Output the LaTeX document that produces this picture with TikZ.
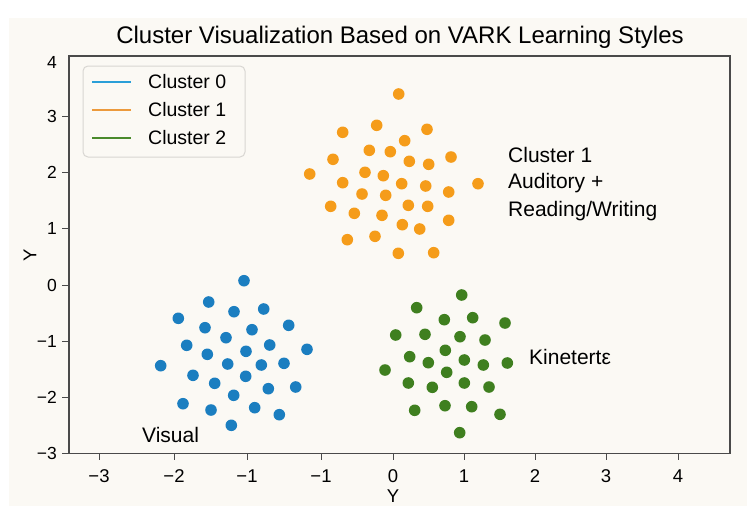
\documentclass[tikz,border=0pt]{standalone}
\usepackage{fontspec}
\setmainfont{Liberation Sans}
\definecolor{bg}{HTML}{FBF9F4}
\definecolor{cblue}{HTML}{1B7EC0}
\definecolor{corange}{HTML}{F59C1A}
\definecolor{cgreen}{HTML}{3F7F1F}
\definecolor{lblue}{HTML}{2A9FD8}
\definecolor{lorange}{HTML}{EC9A3C}
\definecolor{lgreen}{HTML}{4A8A2C}
\definecolor{framec}{HTML}{4A4A4A}
\definecolor{legc}{HTML}{D8D6D2}
\begin{document}
\begin{tikzpicture}[x=1pt,y=-1pt,
  ticklab/.style={font=\fontsize{18.5}{22}\selectfont,text=black,inner sep=0pt},
  yticklab/.style={font=\fontsize{17.5}{21}\selectfont,text=black,inner sep=0pt,anchor=east},
  annot/.style={font=\fontsize{21}{25}\selectfont,text=black,inner sep=0pt,anchor=west},
  legtext/.style={font=\fontsize{19.5}{23}\selectfont,text=black,inner sep=0pt,anchor=west},
  legline/.style={line width=2pt},
  tickmark/.style={framec,line width=1pt}]
\useasboundingbox (0,0) rectangle (747,506);
\fill[white] (0,0) rectangle (747,506);
\fill[bg] (9,18) rectangle (747,506);
% title
\node[font=\fontsize{24}{28}\selectfont,inner sep=0pt] (title) at (400,37) {Cluster Visualization Based on VARK Learning Styles};
% frame
\draw[framec,line width=1.3pt] (69,56) rectangle (730,453.5);
% x ticks
\foreach \xx/\lab [count=\i] in {99/−3,174/−2,247/−1,321/−1,393/0,464/1,535/2,606/3,678/4}{
  \draw[tickmark] (\xx,453.5) -- (\xx,459.5);
  \node[ticklab] (xt\i) at (\xx,476) {\lab};
}
\node[ticklab] (xlabel) at (393,496) {Y};
% y ticks
\node[yticklab] (yt0) at (57,62) {4};
\foreach \yy/\lab [count=\i] in {116/3,172.3/2,228.7/1,285/0,341.3/−1,397.7/−2,453.5/−3}{
  \draw[tickmark] (62,\yy) -- (69,\yy);
  \node[yticklab] (yt\i) at (57,\yy) {\lab};
}
\node[ticklab,rotate=90] (ylabel) at (30,255) {Y};
% legend
\draw[legc,line width=1pt,fill=bg,rounded corners=5pt] (83,66) rectangle (245,157);
\draw[legline,lblue] (92,82) -- (131,82);
\draw[legline,lorange] (92,110) -- (131,110);
\draw[legline,lgreen] (92,138) -- (131,138);
\node[legtext] (l0) at (148,82) {Cluster 0};
\node[legtext] (l1) at (148,110) {Cluster 1};
\node[legtext] (l2) at (148,138) {Cluster 2};
% cluster 0 (blue)
\foreach \x/\y in {244/280.7,208.7/302,234/311.7,263.7/309,178.3/318.3,205/327.7,252/329.7,288.7/325.3,226/337.7,186.7/345.3,269.7/345,307/349.3,207.3/354.3,246/351.3,160.7/365.7,227.7/364,261.3/365,284/363.3,193/375.3,245.7/376.3,214.7/383.3,268.3/388.7,295.7/387,233.7/395.3,183/403.7,211/410,254.7/407.7,279.3/414.7,231.3/425.3}
  \fill[cblue] (\x,\y) circle (5.8);
% cluster 1 (orange)
\foreach \x/\y in {398.7/94,342.7/132.3,376.7/125.3,427/129.3,404.7/140.7,369.3/150.3,390.3/151.7,333/159.3,409.3/161.3,428.7/164.3,451/157,309.7/174,365/172.3,383.3/175.7,342.7/182.7,401.7/183.7,425.7/186,478/183.7,362/194,385.7/195.3,448.7/192,330.7/206.3,408.3/205.3,427.7/206.3,354.3/213.3,382/215.3,402.3/224.7,419.7/229,448.7/220.3,347.3/239.7,375/236.3,398.3/253.3,433.7/252.7}
  \fill[corange] (\x,\y) circle (5.8);
% cluster 2 (green)
\foreach \x/\y in {461.7/295,416.7/307.7,444.3/319.7,472.7/317.7,505/323,395.7/335,425/334.3,460/336.7,485/340,445.3/350.3,409.7/356.7,428.3/362.7,464.3/360,483.3/365,507.3/363,385/370,446.7/372.3,408.3/383,432.3/387.3,464.3/383,489/387,414.7/410.3,445/405.7,471.7/406.7,500/414.3,459.7/432.7}
  \fill[cgreen] (\x,\y) circle (5.8);
% annotations
\node[annot] (a1) at (508,155) {Cluster 1};
\node[annot] (a2) at (508,183) {Auditory +};
\node[annot] (a3) at (508,211) {Reading/Writing};
\node[annot] (a4) at (529,357) {Kinetertε};
\node[annot] (a5) at (142,435) {Visual};
\end{tikzpicture}
\end{document}
